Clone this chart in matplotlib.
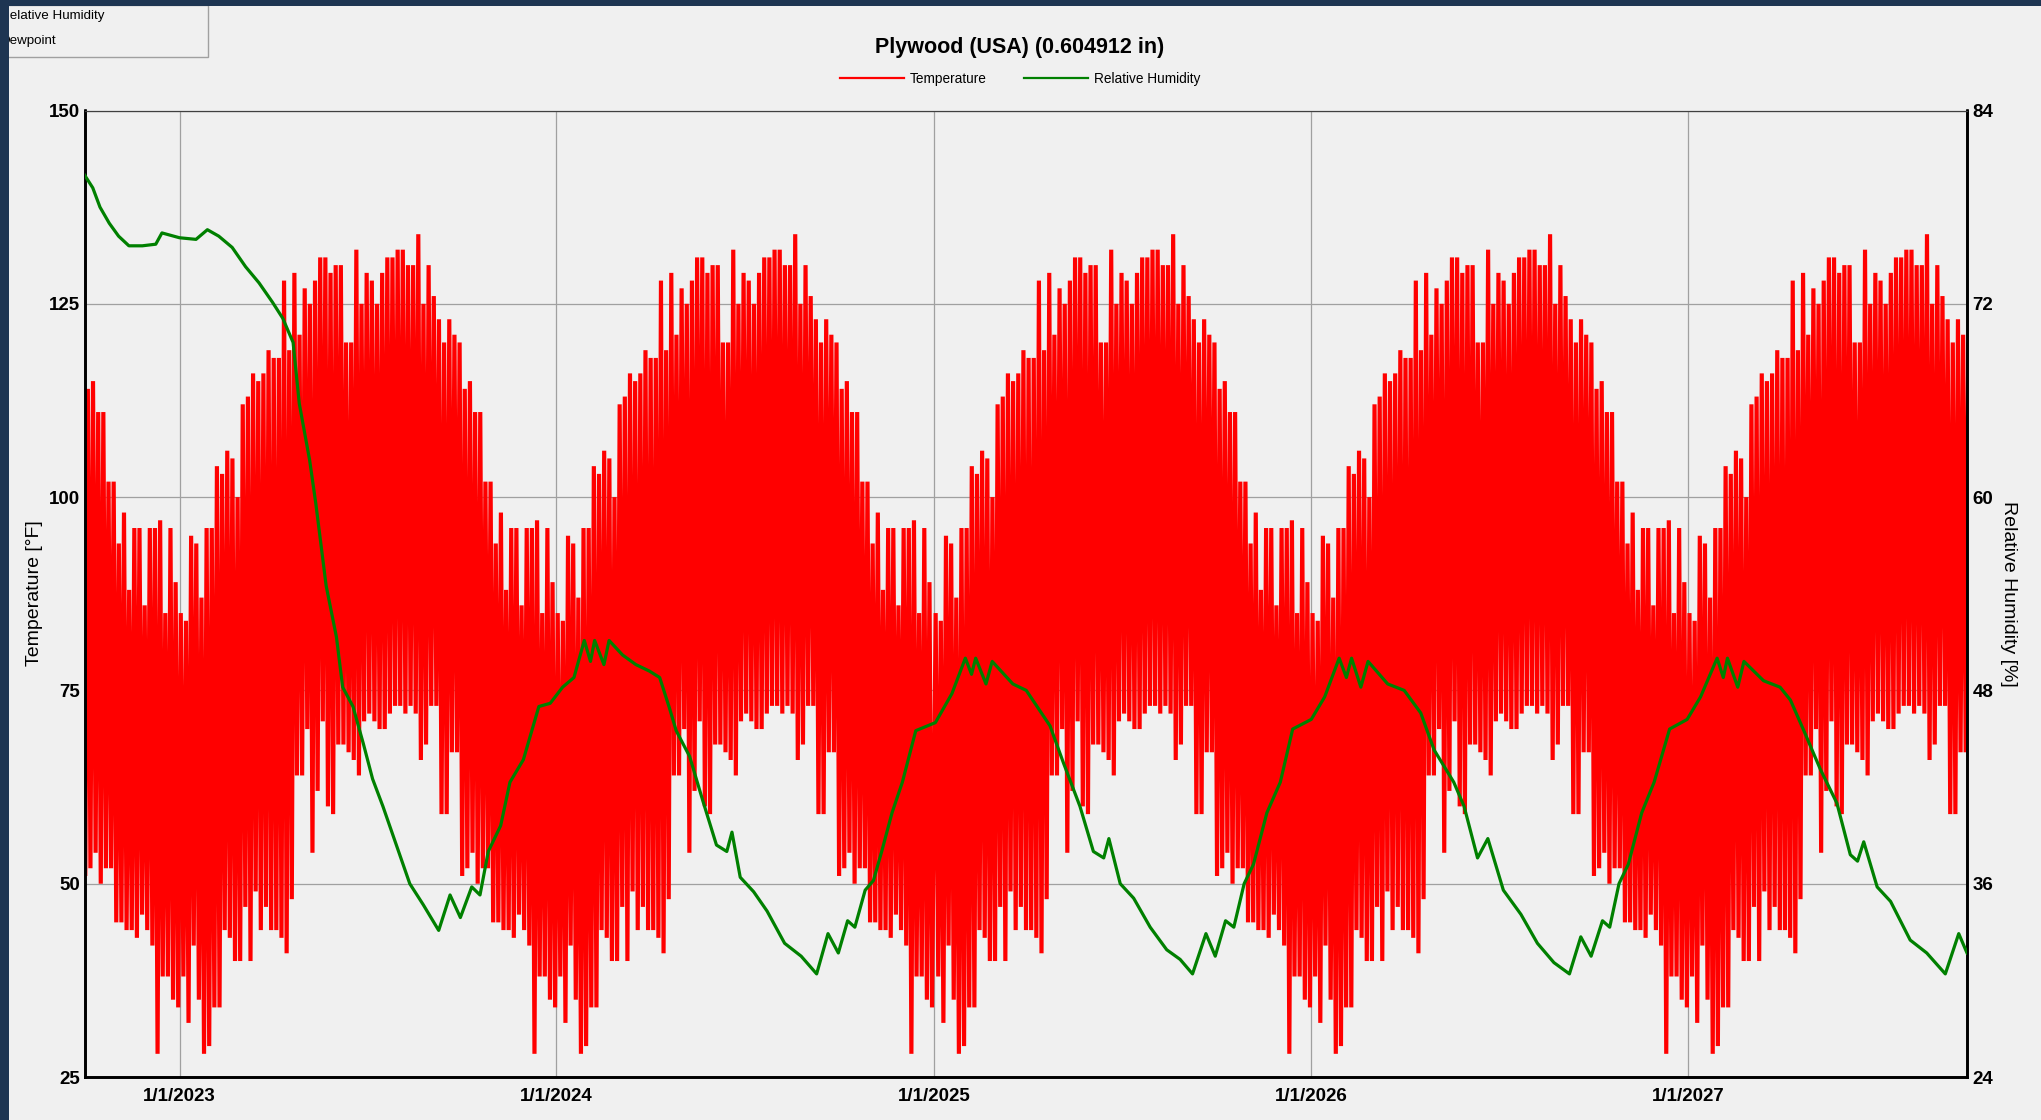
import numpy as np
import matplotlib
matplotlib.use('Agg')
import matplotlib.pyplot as plt
import matplotlib.dates as mdates
from matplotlib.lines import Line2D
from matplotlib.patches import Rectangle
from datetime import datetime, timedelta

plt.rcParams['font.family'] = ['Liberation Sans', 'DejaVu Sans']

# surface temperature, one weather year (same year repeats in the run)
# spike max / spike min per 5-day bin, starting 1 Jan
temp_hi = [85, 84, 95, 94, 87, 96, 96, 104, 103, 106, 105, 100, 112, 113, 116, 115,
           116, 119, 118, 118, 128, 119, 129, 121, 127, 125, 128, 131, 131, 129, 130,
           130, 120, 120, 132, 125, 129, 128, 125, 129, 131, 131, 132, 132, 130, 130,
           134, 125, 130, 126, 123, 120, 123, 121, 120, 114, 115, 111, 111, 102, 102,
           94, 98, 88, 96, 96, 86, 96, 96, 97, 85, 96, 89]
temp_lo = [38, 32, 42, 35, 28, 29, 34, 34, 44, 43, 40, 40, 47, 40, 49, 44,
           47, 44, 44, 43, 41, 48, 64, 64, 70, 54, 62, 71, 60, 59, 68,
           68, 67, 66, 64, 71, 72, 71, 70, 70, 72, 73, 73, 72, 73, 72,
           66, 68, 73, 73, 59, 59, 67, 67, 51, 52, 54, 50, 52, 52, 45,
           45, 44, 44, 43, 46, 44, 42, 28, 38, 38, 35, 34]
temp_years = [2022, 2023, 2024, 2025, 2026, 2027]

rh_dates = ['2022-10-01', '2022-10-09', '2022-10-16', '2022-10-25', '2022-11-03', '2022-11-13',
            '2022-11-26', '2022-12-09', '2022-12-15', '2023-01-01', '2023-01-17', '2023-01-28',
            '2023-02-08', '2023-02-21', '2023-03-06', '2023-03-19', '2023-04-01', '2023-04-11',
            '2023-04-21', '2023-04-27', '2023-05-07', '2023-05-13', '2023-05-23', '2023-06-02',
            '2023-06-08', '2023-06-18', '2023-06-28', '2023-07-07', '2023-07-17', '2023-07-30',
            '2023-08-12', '2023-08-25', '2023-09-09', '2023-09-20', '2023-09-30', '2023-10-11',
            '2023-10-19', '2023-10-27', '2023-11-08', '2023-11-17', '2023-11-30', '2023-12-15',
            '2023-12-26', '2024-01-07', '2024-01-18', '2024-01-28', '2024-02-03', '2024-02-07',
            '2024-02-16', '2024-02-21', '2024-03-05', '2024-03-18', '2024-03-31', '2024-04-10',
            '2024-04-19', '2024-04-26', '2024-05-09', '2024-05-22', '2024-06-04', '2024-06-14',
            '2024-06-19', '2024-06-27', '2024-07-10', '2024-07-23', '2024-08-09', '2024-08-25',
            '2024-09-09', '2024-09-20', '2024-09-30', '2024-10-09', '2024-10-16', '2024-10-26',
            '2024-11-03', '2024-11-11', '2024-11-21', '2024-12-01', '2024-12-14', '2025-01-02',
            '2025-01-18', '2025-01-31', '2025-02-06', '2025-02-10', '2025-02-20', '2025-02-26',
            '2025-03-18', '2025-03-31', '2025-04-23', '2025-05-06', '2025-05-22', '2025-06-04',
            '2025-06-14', '2025-06-19', '2025-06-30', '2025-07-13', '2025-07-29', '2025-08-14',
            '2025-08-27', '2025-09-08', '2025-09-21', '2025-09-30', '2025-10-10', '2025-10-18',
            '2025-10-28', '2025-11-06', '2025-11-19', '2025-12-02', '2025-12-14', '2026-01-01',
            '2026-01-14', '2026-01-28', '2026-02-04', '2026-02-09', '2026-02-18', '2026-02-25',
            '2026-03-16', '2026-04-01', '2026-04-17', '2026-04-30', '2026-05-19', '2026-05-29',
            '2026-06-11', '2026-06-21', '2026-07-06', '2026-07-23', '2026-08-08', '2026-08-24',
            '2026-09-08', '2026-09-19', '2026-09-29', '2026-10-10', '2026-10-17', '2026-10-26',
            '2026-11-04', '2026-11-17', '2026-11-29', '2026-12-14', '2026-12-31', '2027-01-13',
            '2027-01-29', '2027-02-04', '2027-02-08', '2027-02-18', '2027-02-24', '2027-03-15',
            '2027-03-31', '2027-04-10', '2027-04-23', '2027-05-09', '2027-05-25', '2027-06-07',
            '2027-06-14', '2027-06-20', '2027-07-03', '2027-07-16', '2027-08-04', '2027-08-20',
            '2027-09-07', '2027-09-20', '2027-09-28']
rh_vals = [80.0, 79.2, 78.0, 77.0, 76.2, 75.6,
           75.6, 75.7, 76.4, 76.1, 76.0, 76.6,
           76.2, 75.5, 74.3, 73.3, 72.1, 71.1,
           69.6, 65.8, 62.3, 59.6, 54.5, 51.3,
           48.2, 47.0, 44.7, 42.5, 40.8, 38.4,
           36.0, 34.7, 33.1, 35.3, 33.9, 35.8,
           35.3, 38.0, 39.6, 42.3, 43.7, 47.0,
           47.2, 48.2, 48.8, 51.1, 49.8, 51.1,
           49.6, 51.1, 50.2, 49.6, 49.2, 48.8,
           47.0, 45.5, 43.9, 41.1, 38.4, 38.0,
           39.2, 36.4, 35.5, 34.3, 32.3, 31.5,
           30.4, 32.9, 31.7, 33.7, 33.3, 35.6,
           36.2, 38.0, 40.4, 42.3, 45.5, 46.0,
           47.8, 50.0, 49.0, 50.0, 48.4, 49.8,
           48.4, 48.0, 45.8, 43.5, 40.8, 38.0,
           37.6, 38.8, 36.0, 35.1, 33.3, 31.9,
           31.3, 30.4, 32.9, 31.5, 33.7, 33.3,
           36.0, 37.2, 40.4, 42.3, 45.6, 46.2,
           47.6, 50.0, 48.8, 50.0, 48.2, 49.8,
           48.4, 48.0, 46.6, 44.3, 42.3, 40.8,
           37.6, 38.8, 35.6, 34.1, 32.3, 31.1,
           30.4, 32.7, 31.5, 33.7, 33.3, 36.0,
           37.2, 40.4, 42.3, 45.6, 46.2, 47.6,
           50.0, 48.8, 50.0, 48.2, 49.8, 48.6,
           48.2, 47.4, 45.5, 43.1, 41.0, 37.8,
           37.4, 38.6, 35.8, 34.9, 32.5, 31.7,
           30.4, 32.9, 31.7]

x_tick_dates = ['2023-01-01', '2024-01-01', '2025-01-01', '2026-01-01', '2027-01-01']
x_tick_labels = ['1/1/2023', '1/1/2024', '1/1/2025', '1/1/2026', '1/1/2027']
temp_ticks = [25, 50, 75, 100, 125, 150]
rh_ticks = [24, 36, 48, 60, 72, 84]

W, H = 2041, 1120
BG = '#f0f0f0'


def fx(px):
    return px / W


def fy(py):
    return 1 - py / H


fig = plt.figure(figsize=(W / 100, H / 100), dpi=100, facecolor=BG)
ax = fig.add_axes([fx(84.5), fy(1077), fx(1967) - fx(84.5), fy(110.5) - fy(1077)])
ax.set_facecolor(BG)

# temperature: zigzag max -> min -> max through each 5-day bin,
# the same weather year laid over each calendar year
tx, ty = [], []
for yr in temp_years:
    for k in range(len(temp_hi)):
        start = datetime(yr, 1, 1) + timedelta(days=5 * k)
        tx.append(start + timedelta(days=1.25))
        ty.append(temp_hi[k])
        tx.append(start + timedelta(days=3.75))
        ty.append(temp_lo[k])
ax.plot(mdates.date2num(tx), ty, color='#ff0000', lw=3.0, solid_joinstyle='bevel', zorder=2)

ax.set_ylim(25, 150)
ax.set_yticks(temp_ticks)
ax.set_xlim(mdates.date2num(datetime(2022, 10, 1)), mdates.date2num(datetime(2027, 9, 28)))
ax.set_xticks(mdates.date2num([datetime.strptime(d, '%Y-%m-%d') for d in x_tick_dates]))
ax.set_xticklabels(x_tick_labels)
ax.grid(True, color='#a0a0a0', lw=0.9, zorder=0)
ax.set_axisbelow(True)
ax.tick_params(axis='both', length=0, labelsize=13.5)
ax.tick_params(axis='x', pad=8)
ax.tick_params(axis='y', pad=3)
for lab in ax.get_xticklabels() + ax.get_yticklabels():
    lab.set_fontweight('bold')

ax2 = ax.twinx()
rh_x = mdates.date2num([datetime.strptime(d, '%Y-%m-%d') for d in rh_dates])
ax2.plot(rh_x, rh_vals, color='#008000', lw=2.3, zorder=3)
ax2.set_ylim(24, 84)
ax2.set_yticks(rh_ticks)
ax2.tick_params(axis='y', length=0, labelsize=13.5, pad=4)
for lab in ax2.get_yticklabels():
    lab.set_fontweight('bold')

for a in (ax, ax2):
    a.spines['top'].set_linewidth(0.8)
    a.spines['top'].set_color('#404040')
    for s in ('left', 'right', 'bottom'):
        a.spines[s].set_linewidth(1.9)
        a.spines[s].set_color('black')

fig.text(fx(35), fy(593), 'Temperature [°F]', rotation=90, ha='center', va='center', fontsize=14)
fig.text(fx(2008), fy(594), 'Relative Humidity [%]', rotation=270, ha='center', va='center', fontsize=14)

fig.text(fx(1020), fy(47), 'Plywood (USA) (0.604912 in)', ha='center', va='center',
         fontsize=15.5, fontweight='bold')

handles = [Line2D([], [], color='#ff0000', lw=1.6), Line2D([], [], color='#008000', lw=1.6)]
fig.legend(handles, ['Temperature', 'Relative Humidity'], loc='center',
           bbox_to_anchor=(fx(1020), fy(79)), ncol=2, frameon=False, fontsize=9.8,
           handlelength=4.7, handletextpad=0.4, columnspacing=2.8)

# little selector box in the top left corner, partly hidden by the window edge
fig.add_artist(Rectangle((fx(-3), fy(57)), fx(211), 52 / H, transform=fig.transFigure,
                         facecolor=BG, edgecolor='#a0a0a0', lw=1.0, zorder=4))
fig.text(fx(0), fy(16), 'Relative Humidity', ha='left', va='center', fontsize=9.6, zorder=5)
fig.text(fx(1), fy(41), 'Dewpoint', ha='left', va='center', fontsize=9.6, zorder=5)
fig.add_artist(Rectangle((0, fy(6)), 1, 6 / H, transform=fig.transFigure,
                         facecolor='#1e3552', lw=0, zorder=10))
fig.add_artist(Rectangle((0, 0), fx(9), 1, transform=fig.transFigure,
                         facecolor='#1e3552', lw=0, zorder=10))

fig.savefig('out.png', dpi=100, facecolor=BG)
